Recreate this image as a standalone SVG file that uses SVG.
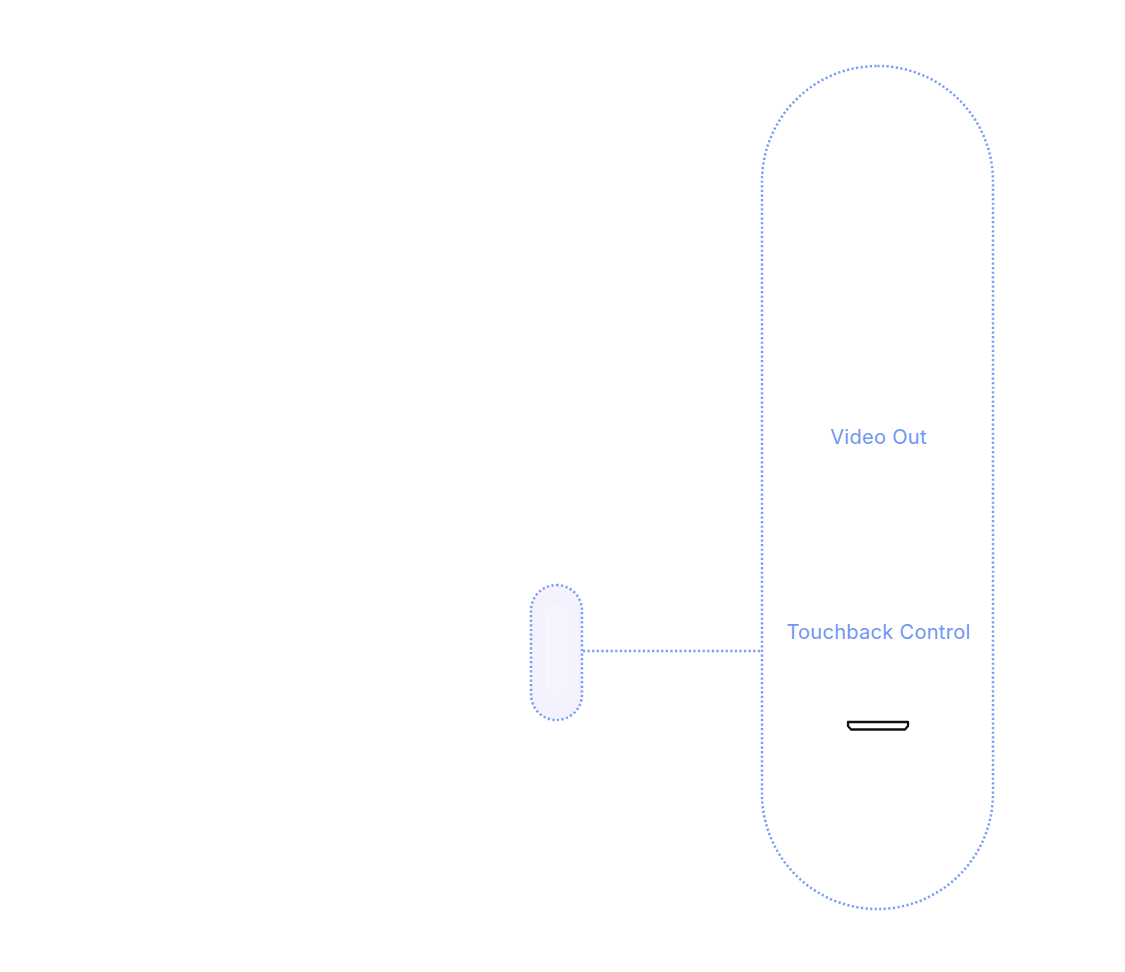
<svg xmlns="http://www.w3.org/2000/svg" width="1125" height="972" viewBox="0 0 1125 972">
<style>
.dot{fill:none;stroke:#7a9ef6;stroke-width:2.5;stroke-dasharray:2.2 2.4}
.lbl{font-family:Inter,"Liberation Sans",sans-serif;font-size:20px;letter-spacing:0.3px;fill:#6f95f5;text-anchor:middle}
</style>
<rect width="1125" height="972" fill="#ffffff"/>
<g id="connectors">
<line class="dot" x1="583" y1="651" x2="762" y2="651"/>
</g>
<g id="device">
<rect class="dot" x="762" y="66" width="231" height="843" rx="115.5" ry="115.5"/>
<text class="lbl" x="878.5" y="444">Video Out</text>
<text class="lbl" x="878.5" y="639">Touchback Control</text>
<path d="M848 722 H908 V726 L905 729.5 H851 L848 726 Z" fill="none" stroke="#111" stroke-width="2.3" stroke-linejoin="round"/>
</g>
<g id="remote">
<rect class="dot" x="531" y="585" width="51" height="135" rx="25.5" ry="25.5" style="fill:#f4f2fd"/>
<rect x="547" y="606" width="20" height="89" rx="10" fill="#f5f4fe" stroke="#f9f9ff" stroke-width="1"/>
</g>
</svg>
